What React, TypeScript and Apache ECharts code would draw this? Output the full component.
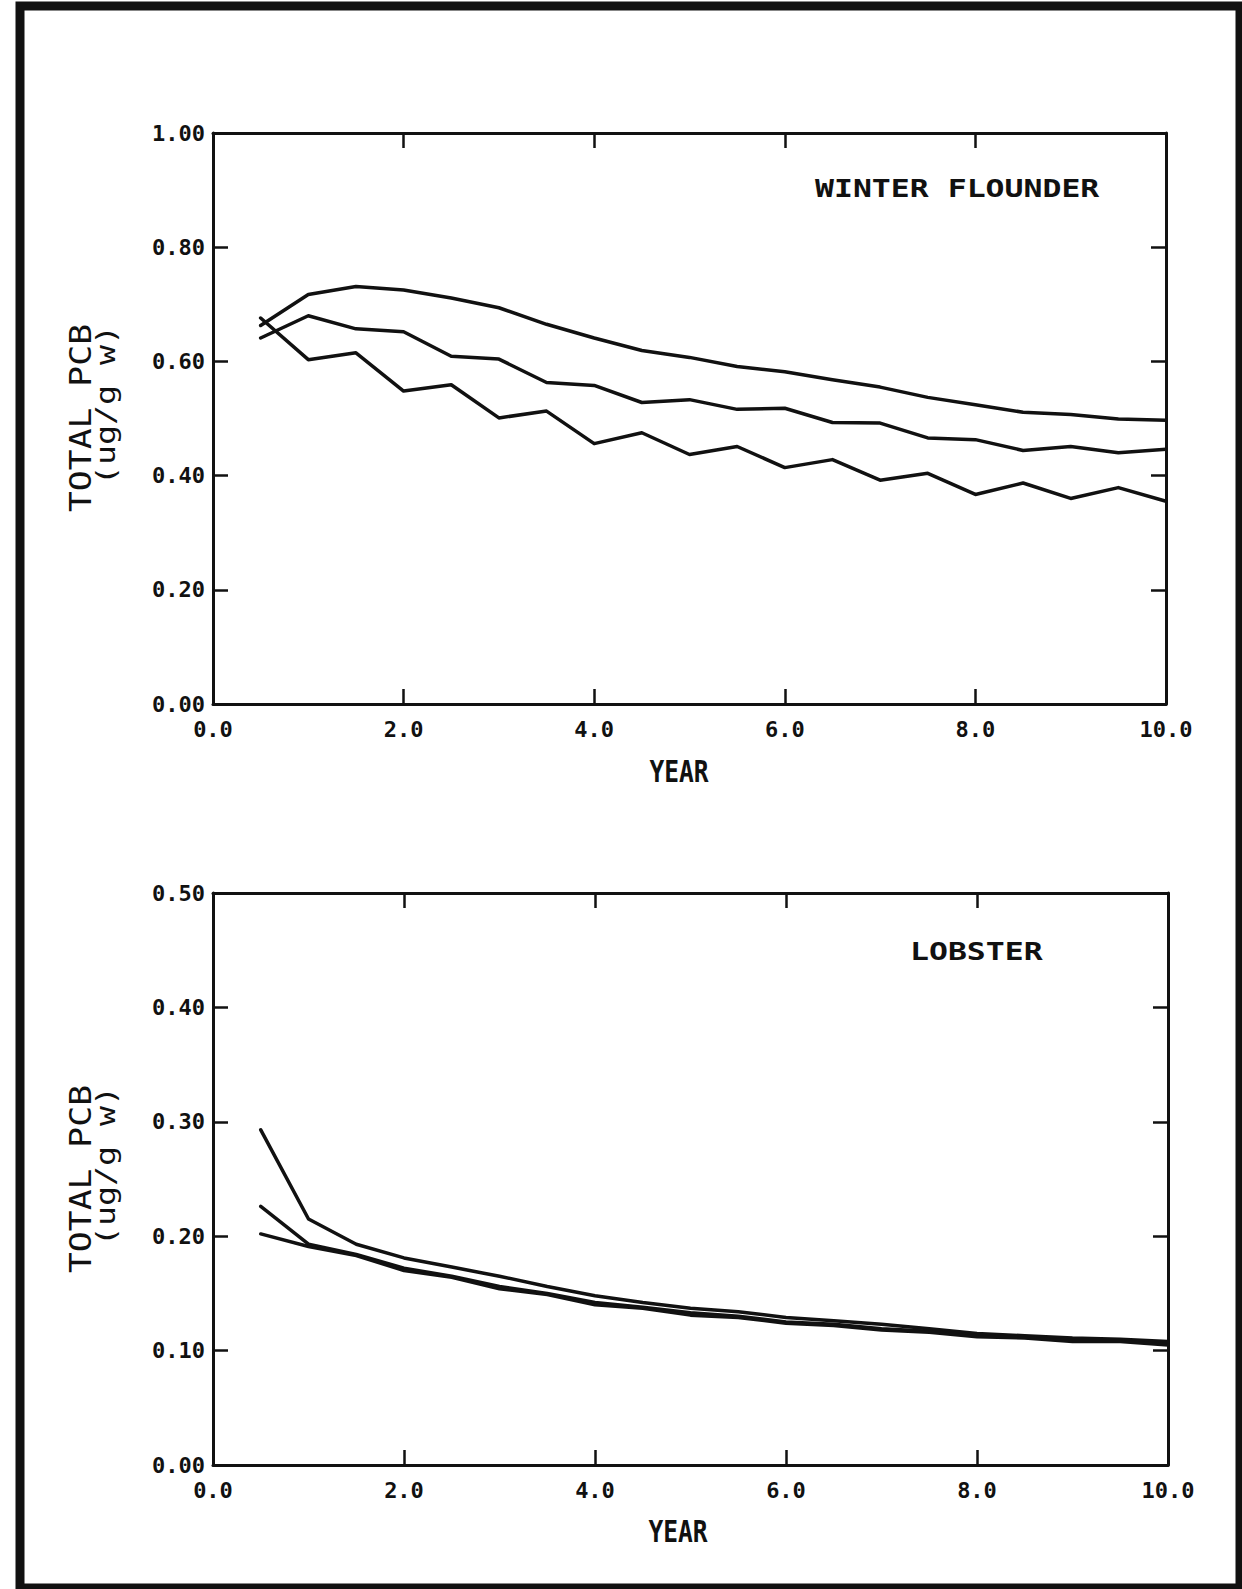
import React, { useEffect, useRef } from "react";
import * as echarts from "echarts";

// Simulation years (half-year steps)
const YEARS = [0.5, 1.0, 1.5, 2.0, 2.5, 3.0, 3.5, 4.0, 4.5, 5.0, 5.5, 6.0, 6.5, 7.0, 7.5, 8.0, 8.5, 9.0, 9.5, 10.0];

// Winter flounder, total PCB (ug/g w)
const FLOUNDER_HIGH = [0.663, 0.717, 0.731, 0.725, 0.711, 0.694, 0.665, 0.641, 0.619, 0.607, 0.591, 0.582, 0.568, 0.555, 0.537, 0.524, 0.511, 0.507, 0.499, 0.497];
const FLOUNDER_MID = [0.641, 0.680, 0.657, 0.652, 0.609, 0.604, 0.563, 0.558, 0.528, 0.533, 0.516, 0.518, 0.493, 0.492, 0.466, 0.463, 0.444, 0.451, 0.440, 0.446];
const FLOUNDER_LOW = [0.676, 0.603, 0.615, 0.548, 0.559, 0.501, 0.513, 0.456, 0.475, 0.437, 0.451, 0.414, 0.428, 0.392, 0.404, 0.367, 0.387, 0.360, 0.379, 0.355];

// Lobster, total PCB (ug/g w)
const LOBSTER_HIGH = [0.293, 0.215, 0.193, 0.181, 0.173, 0.165, 0.156, 0.148, 0.142, 0.137, 0.134, 0.129, 0.126, 0.123, 0.119, 0.115, 0.113, 0.111, 0.110, 0.108];
const LOBSTER_MID = [0.226, 0.193, 0.184, 0.172, 0.165, 0.156, 0.150, 0.142, 0.138, 0.133, 0.130, 0.125, 0.123, 0.119, 0.117, 0.113, 0.112, 0.109, 0.109, 0.107];
const LOBSTER_LOW = [0.202, 0.191, 0.183, 0.170, 0.164, 0.154, 0.149, 0.140, 0.137, 0.131, 0.129, 0.124, 0.122, 0.118, 0.116, 0.112, 0.111, 0.108, 0.108, 0.105];

// Axis ranges
const X_RANGE = { min: 0, max: 10, interval: 2 };
const FLOUNDER_Y = { min: 0, max: 1.0, interval: 0.2 };
const LOBSTER_Y = { min: 0, max: 0.5, interval: 0.1 };

const INK = "#111";
const MONO = "'DejaVu Sans Mono', monospace";

const pairs = (ys: number[]) => YEARS.map((x, i) => [x, ys[i]]);

const axisLine = { show: true, onZero: false, lineStyle: { color: INK, width: 3 } };
const axisTick = { show: true, inside: true, length: 15, lineStyle: { color: INK, width: 2.5 } };

function xAxesFor(gridIndex: number) {
  return [
    {
      type: "value",
      gridIndex,
      position: "bottom",
      ...X_RANGE,
      axisLine,
      axisTick,
      splitLine: { show: false },
      axisLabel: {
        show: true,
        margin: 14,
        color: INK,
        fontFamily: MONO,
        fontWeight: "bold",
        fontSize: 22,
        formatter: (v: number) => v.toFixed(1),
      },
    },
    {
      type: "value",
      gridIndex,
      position: "top",
      ...X_RANGE,
      axisLine,
      axisTick,
      splitLine: { show: false },
      axisLabel: { show: false },
    },
  ];
}

function yAxesFor(gridIndex: number, range: { min: number; max: number; interval: number }) {
  return [
    {
      type: "value",
      gridIndex,
      position: "left",
      ...range,
      axisLine,
      axisTick,
      splitLine: { show: false },
      axisLabel: {
        show: true,
        margin: 8,
        color: INK,
        fontFamily: MONO,
        fontWeight: "bold",
        fontSize: 22,
        verticalAlign: "middle",
        padding: [0, 0, 13, 0],
        formatter: (v: number) => v.toFixed(2),
      },
    },
    {
      type: "value",
      gridIndex,
      position: "right",
      ...range,
      axisLine,
      axisTick,
      splitLine: { show: false },
      axisLabel: { show: false },
    },
  ];
}

function lineSeries(name: string, ys: number[], axisIndex: number) {
  return {
    name,
    type: "line",
    xAxisIndex: axisIndex,
    yAxisIndex: axisIndex,
    data: pairs(ys),
    symbol: "none",
    smooth: false,
    lineStyle: { color: INK, width: 3.5, join: "round", cap: "round" },
    z: 3,
  };
}

function textEl(
  text: string,
  x: number,
  y: number,
  size: number,
  scaleX: number,
  weight: string = "normal",
  align: string = "center",
  rotation: number = 0
) {
  return {
    type: "text",
    x,
    y,
    rotation,
    scaleX,
    scaleY: 1,
    silent: true,
    style: {
      text,
      fontFamily: MONO,
      fontSize: size,
      fontWeight: weight,
      fill: INK,
      textAlign: align,
      align,
      textVerticalAlign: "middle",
      verticalAlign: "middle",
    },
  };
}

const UP = Math.PI / 2;

export default function App() {
  const ref = useRef<HTMLDivElement>(null);

  useEffect(() => {
    if (!ref.current) return;
    const chart = echarts.init(ref.current, undefined, { renderer: "svg" });

    chart.setOption({
      animation: false,
      backgroundColor: "#ffffff",
      grid: [
        { left: 213, top: 133, width: 953, height: 571 },
        { left: 213, top: 893, width: 955, height: 572 },
      ],
      xAxis: [...xAxesFor(0), ...xAxesFor(1)],
      yAxis: [...yAxesFor(0, FLOUNDER_Y), ...yAxesFor(1, LOBSTER_Y)],
      series: [
        lineSeries("flounder-high", FLOUNDER_HIGH, 0),
        lineSeries("flounder-mid", FLOUNDER_MID, 0),
        lineSeries("flounder-low", FLOUNDER_LOW, 0),
        lineSeries("lobster-high", LOBSTER_HIGH, 2),
        lineSeries("lobster-mid", LOBSTER_MID, 2),
        lineSeries("lobster-low", LOBSTER_LOW, 2),
      ],
      graphic: [
        {
          type: "rect",
          silent: true,
          shape: { x: 20, y: 6, width: 1220, height: 1582 },
          style: { fill: "none", stroke: INK, lineWidth: 9 },
        },
        textEl("WINTER FLOUNDER", 815, 189, 25, 1.26, "bold", "left"),
        textEl("LOBSTER", 910, 952, 25, 1.26, "bold", "left"),
        textEl("YEAR", 679, 772, 30, 0.82, "bold"),
        textEl("YEAR", 678, 1532, 30, 0.82, "bold"),
        textEl("TOTAL PCB", 80, 418, 31, 1.12, "normal", "center", UP),
        textEl("(ug/g w)", 106, 405, 26, 1.28, "normal", "center", UP),
        textEl("TOTAL PCB", 80, 1179, 31, 1.12, "normal", "center", UP),
        textEl("(ug/g w)", 106, 1166, 26, 1.28, "normal", "center", UP),
      ],
    });

    return () => chart.dispose();
  }, []);

  return (
    <div
      ref={ref}
      style={{ position: "absolute", left: 0, top: 0, width: 1242, height: 1589, background: "#fff" }}
    />
  );
}
